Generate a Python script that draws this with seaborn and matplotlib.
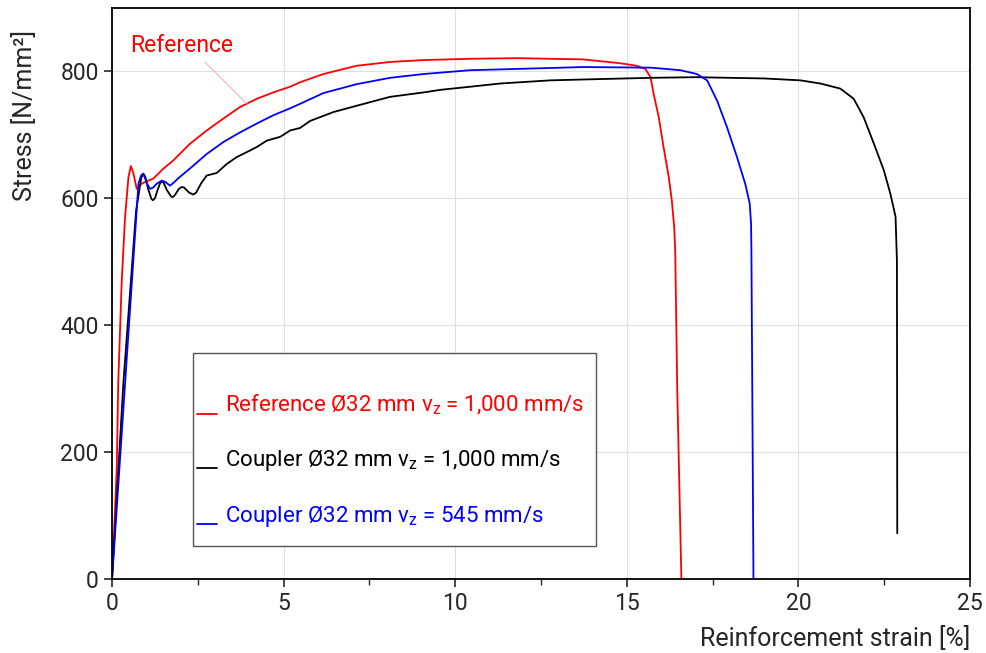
import pandas as pd
import numpy as np
import seaborn as sns
import matplotlib.pyplot as plt
from matplotlib.ticker import MultipleLocator
from matplotlib.patches import Rectangle
from matplotlib.legend_handler import HandlerLine2D

# --- curve data (strain in %, stress in N/mm²) ---
ref_strain = [0, 0.06, 0.14, 0.18, 0.28, 0.38, 0.48, 0.55, 0.62, 0.72, 0.86, 1.06,
              1.2, 1.5, 1.79, 2.27, 2.76, 3.25, 3.73, 4.22, 4.7, 5.19, 5.48, 6.16,
              7.13, 8.1, 9.08, 10.44, 11.8, 13.74, 14.8, 15.29, 15.54, 15.69,
              15.78, 15.93, 16.07, 16.22, 16.31, 16.38, 16.41, 16.47, 16.59]
ref_stress = [0, 73, 178, 308, 466, 571, 634, 651, 640, 615, 623, 628,
              631, 647, 660, 686, 707, 726, 744, 757, 767, 776, 783, 796,
              809, 815, 818, 820, 821, 819, 813, 809, 804, 791,
              765, 728, 681, 634, 597, 555, 518, 296, 0]

c1000_strain = [0, 0.33, 0.7, 0.85, 0.91, 0.97, 1.05, 1.15, 1.19, 1.25, 1.32, 1.4,
                1.45, 1.5, 1.6, 1.72, 1.77, 1.83, 1.95, 2.03, 2.1, 2.25, 2.37,
                2.45, 2.6, 2.76, 3.05, 3.34, 3.63, 3.93, 4.22, 4.51, 4.9, 5.19,
                5.48, 5.77, 6.45, 7.13, 8.1, 9.08, 9.56, 10.44, 11.3, 12.77,
                14.2, 15.7, 17.0, 18.0, 19.0, 20.06, 20.64, 21.22, 21.61, 21.9,
                22.2, 22.49, 22.68, 22.83, 22.87, 22.88]
c1000_stress = [0, 308, 580, 632, 639, 634, 615, 599, 597, 600, 612, 624,
                626, 625, 613, 603, 602, 605, 615, 618, 617, 609, 606,
                609, 624, 636, 640, 654, 665, 673, 681, 691, 697, 707,
                711, 722, 736, 746, 760, 767, 771, 776, 781, 786,
                788, 790, 791, 790, 789, 786, 781, 773, 757, 728,
                686, 644, 607, 571, 502, 72]

c545_strain = [0, 0.38, 0.77, 0.84, 0.88, 0.94, 1.02, 1.11, 1.2, 1.3, 1.45, 1.55,
               1.69, 1.8, 1.98, 2.27, 2.76, 3.25, 3.73, 4.22, 4.7, 5.19, 5.48,
               6.16, 7.13, 8.1, 9.08, 10.44, 11.8, 13.74, 15.7, 16.56, 17.04,
               17.34, 17.63, 17.92, 18.21, 18.45, 18.58, 18.62, 18.63, 18.69]
c545_stress = [0, 308, 623, 635, 638, 635, 623, 615, 617, 623, 628, 626,
               620, 625, 634, 647, 670, 689, 704, 718, 731, 742, 749,
               766, 780, 790, 796, 802, 804, 807, 806, 802, 796,
               786, 754, 712, 665, 623, 592, 560, 518, 0]

labels = ['Reference Ø32 mm v$_\\mathregular{z}$ = 1,000 mm/s',
          'Coupler Ø32 mm v$_\\mathregular{z}$ = 1,000 mm/s',
          'Coupler Ø32 mm v$_\\mathregular{z}$ = 545 mm/s']
colors = ['#ff0000', '#000000', '#0000ff']

df = pd.concat([
    pd.DataFrame({'strain': ref_strain, 'stress': ref_stress, 'serie': labels[0]}),
    pd.DataFrame({'strain': c1000_strain, 'stress': c1000_stress, 'serie': labels[1]}),
    pd.DataFrame({'strain': c545_strain, 'stress': c545_stress, 'serie': labels[2]}),
])

sns.set_style("white")
plt.rcParams['font.family'] = ['Roboto', 'DejaVu Sans']
plt.rcParams['mathtext.fontset'] = 'custom'
plt.rcParams['mathtext.rm'] = 'Roboto'

fig = plt.figure(figsize=(9.87, 6.53), dpi=100)
ax = fig.add_axes([0.1135, 0.1133, 0.8693, 0.8744])

sns.lineplot(data=df, x='strain', y='stress', hue='serie', palette=dict(zip(labels, colors)),
             sort=False, estimator=None, linewidth=1.3, ax=ax, legend=False)

ax.set_xlim(0, 25)
ax.set_ylim(0, 900)
ax.xaxis.set_major_locator(MultipleLocator(5))
ax.xaxis.set_minor_locator(MultipleLocator(2.5))
ax.yaxis.set_major_locator(MultipleLocator(200))
ax.grid(True, which='major', color='#e0e0e0', linewidth=0.8)
for s in ax.spines.values():
    s.set_color('black')
    s.set_linewidth(1.3)
ax.tick_params(axis='both', which='major', direction='out', length=6, width=1.2,
               labelsize=16.5, bottom=True, left=True)
ax.tick_params(axis='x', which='minor', direction='out', length=4, width=1.0, bottom=True)

ax.set_ylabel('Stress [N/mm²]', fontsize=18)
ax.yaxis.set_label_coords(-0.087, 0.8126)
ax.set_xlabel('Reinforcement strain [%]', fontsize=18, loc='right')
ax.xaxis.set_label_coords(1.0, -0.082)

# label "Reference" with thin leader line
ax.annotate('Reference', xy=(3.93, 749), xytext=(0.52, 841), color='#ff0000', fontsize=16.5,
            va='center', ha='left',
            arrowprops=dict(arrowstyle='-', color='#f7a8a8', lw=0.7, relpos=(0.68, 0.0),
                            shrinkA=2, shrinkB=0))


# legend handles drawn on the text baseline, like an underscore
class BaselineLine(HandlerLine2D):
    def create_artists(self, legend, orig_handle, xdescent, ydescent, width, height,
                       fontsize, trans):
        arts = super().create_artists(legend, orig_handle, xdescent, ydescent, width,
                                      height, fontsize, trans)
        for a in arts:
            a.set_ydata([-1.5] * len(a.get_ydata()))
        return arts


handles = [plt.Line2D([], [], color=c, lw=1.3) for c in colors]
leg = ax.legend(handles, labels, loc='upper left', bbox_to_anchor=(0.099, 0.326),
                fontsize=16, labelcolor=colors, labelspacing=1.4, handlelength=0.9,
                handletextpad=0.35, borderpad=0, borderaxespad=0, frameon=False,
                handler_map={plt.Line2D: BaselineLine()})
ax.add_patch(Rectangle((0.0944, 0.0578), 0.4696, 0.338, transform=ax.transAxes,
                       facecolor='white', edgecolor='#555555', linewidth=1.0, zorder=4))
leg.set_zorder(5)

plt.savefig('out.png', dpi=100)
